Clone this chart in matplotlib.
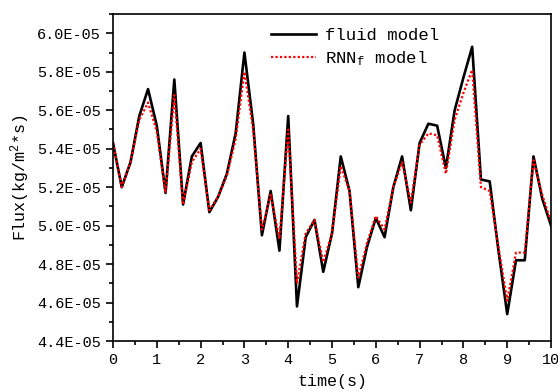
import numpy as np
import matplotlib
matplotlib.use("Agg")
import matplotlib.pyplot as plt
from matplotlib.ticker import MultipleLocator, FuncFormatter

matplotlib.rcParams['mathtext.fontset'] = 'custom'
matplotlib.rcParams['mathtext.rm'] = 'Liberation Mono'
matplotlib.rcParams['mathtext.it'] = 'Liberation Mono'
plt.rc('font', family='Liberation Mono', size=11)

# time (s), 0.2 s step
time = np.arange(0, 10.01, 0.2)

# flux values in units of 1e-5 kg/(m^2*s)
fluid = [5.43, 5.20, 5.33, 5.57, 5.71, 5.52, 5.17, 5.76, 5.11, 5.36,
         5.43, 5.07, 5.15, 5.27, 5.48, 5.90, 5.53, 4.95, 5.18, 4.87,
         5.57, 4.58, 4.94, 5.03, 4.76, 4.96, 5.36, 5.18, 4.68, 4.89,
         5.04, 4.94, 5.20, 5.36, 5.08, 5.43, 5.53, 5.52, 5.30, 5.60,
         5.77, 5.93, 5.24, 5.23, 4.87, 4.54, 4.82, 4.82, 5.36, 5.14,
         5.00]
rnn = [5.43, 5.20, 5.33, 5.55, 5.64, 5.49, 5.17, 5.68, 5.11, 5.33,
       5.40, 5.08, 5.15, 5.26, 5.45, 5.80, 5.50, 4.98, 5.16, 4.93,
       5.50, 4.70, 4.96, 5.03, 4.81, 4.96, 5.31, 5.18, 4.73, 4.91,
       5.05, 4.98, 5.20, 5.33, 5.12, 5.42, 5.48, 5.47, 5.27, 5.55,
       5.69, 5.81, 5.20, 5.18, 4.89, 4.61, 4.86, 4.86, 5.34, 5.16,
       5.02]

fluid = np.array(fluid) * 1e-5
rnn = np.array(rnn) * 1e-5

fig = plt.figure(figsize=(5.58, 3.92), dpi=100)
ax = fig.add_axes([0.2025, 0.130, 0.785, 0.834])

ax.plot(time, fluid, color='black', lw=1.9, label='fluid model')
ax.plot(time, rnn, color='red', lw=1.6, ls=(0, (1, 1)), label='RNN$_\\mathrm{f}$ model')

ax.set_xlim(0, 10)
ax.set_ylim(4.4e-5, 6.1e-5)
ax.xaxis.set_major_locator(MultipleLocator(1))
ax.xaxis.set_minor_locator(MultipleLocator(0.5))
ax.yaxis.set_major_locator(MultipleLocator(0.2e-5))
ax.yaxis.set_minor_locator(MultipleLocator(0.1e-5))
ax.yaxis.set_major_formatter(FuncFormatter(lambda v, p: '%.1E' % v))
ax.tick_params(which='major', direction='out', length=5, width=1.2, labelsize=11)
ax.tick_params(which='minor', direction='out', length=3, width=1.2)
for s in ax.spines.values():
    s.set_linewidth(1.2)

ax.set_xlabel('time(s)', fontsize=12, labelpad=5)
ax.set_ylabel('Flux(kg/m$^2$*s)', fontsize=12, labelpad=4)

ax.legend(loc='upper right', bbox_to_anchor=(0.78, 1.005), frameon=False,
          fontsize=12.5, handlelength=2.6, labelspacing=0.35, handletextpad=0.5)

fig.savefig('out.png', dpi=100)
